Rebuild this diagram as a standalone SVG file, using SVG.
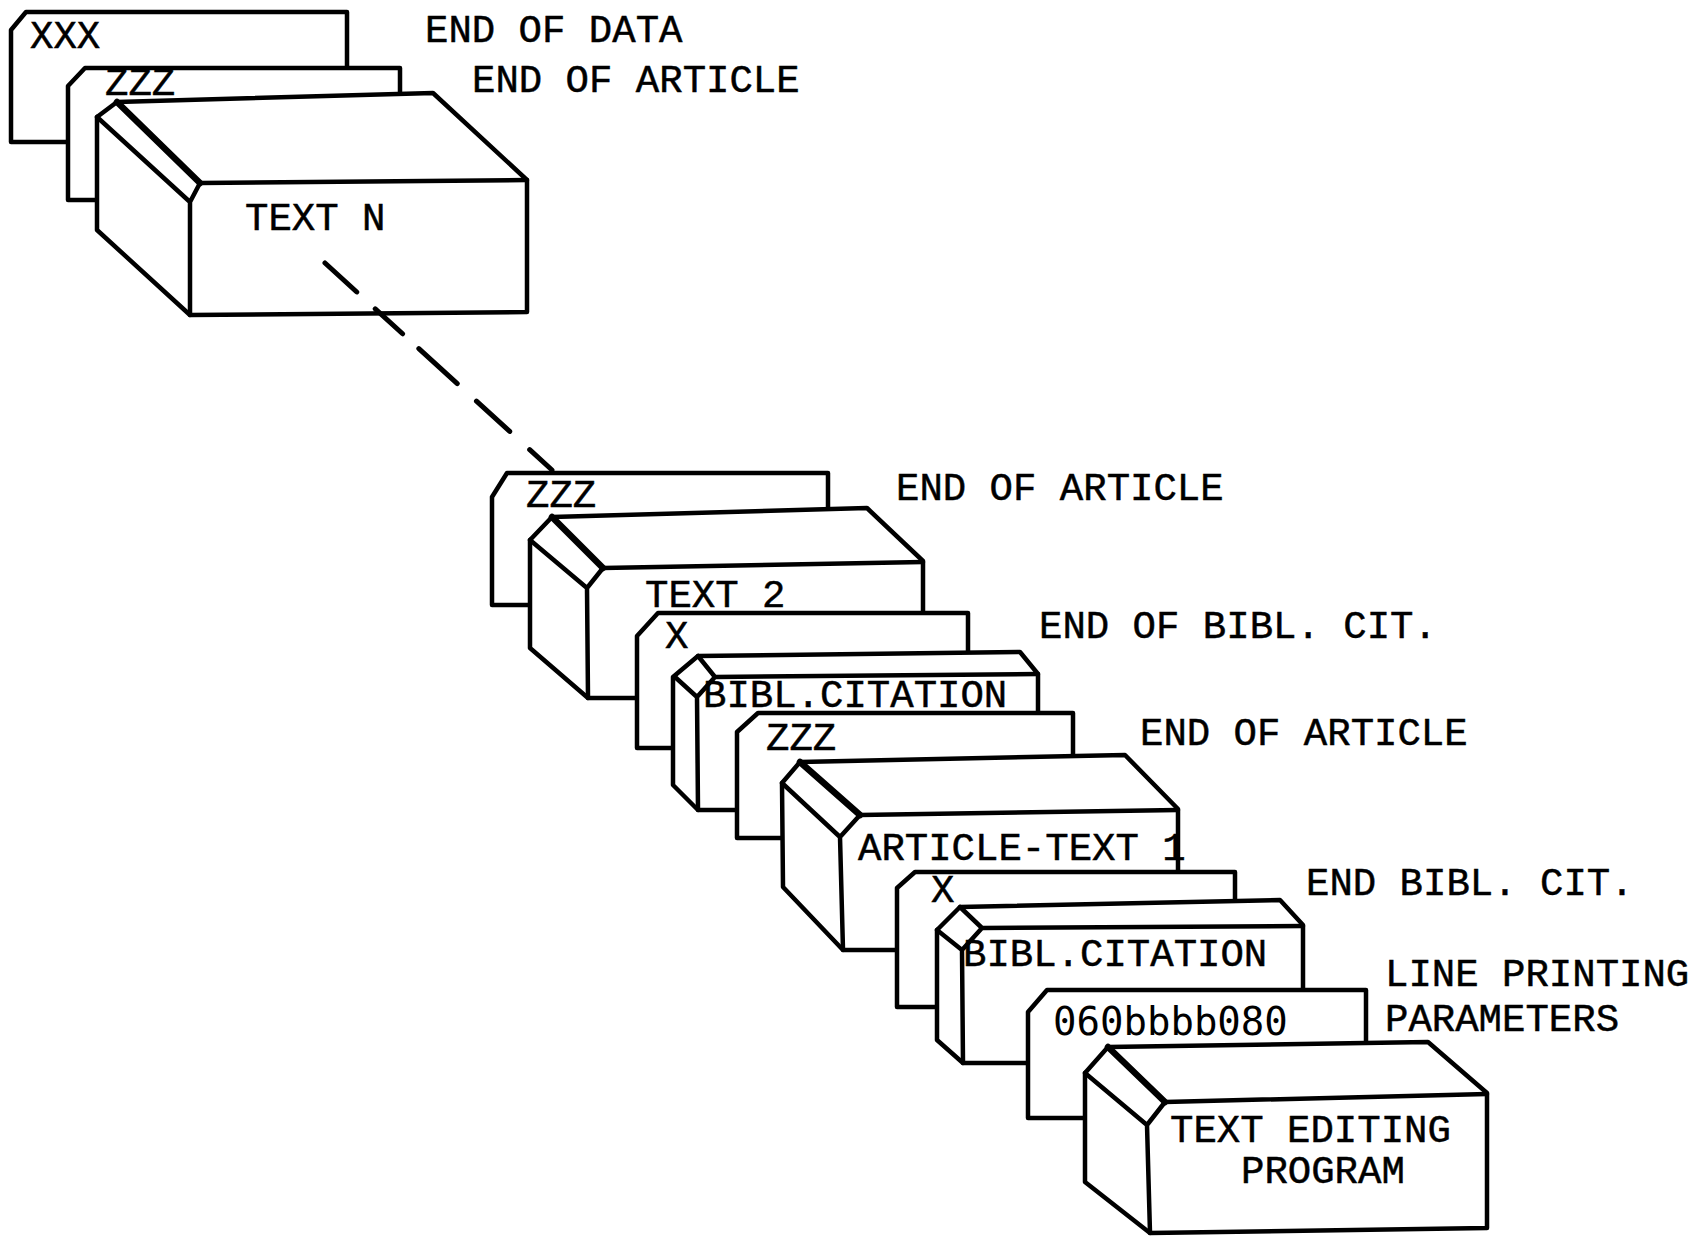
<svg xmlns="http://www.w3.org/2000/svg" width="1705" height="1240" viewBox="0 0 1705 1240">
  <style>
    .o { fill: #fff; stroke: #000; stroke-width: 4.5; stroke-linejoin: round; }
    .l { fill: none; stroke: #000; stroke-width: 4.5; stroke-linecap: round; stroke-linejoin: round; }
    .bv { fill: none; stroke: #000; stroke-width: 6.5; stroke-linecap: round; }
    .t { font-family: "Liberation Mono", "Courier New", monospace; font-size: 39px; fill: #000; stroke: #000; stroke-width: 0.5; }
    .g { font-family: "DejaVu Sans Mono", monospace; font-size: 39px; fill: #000; }
    .dash { fill: none; stroke: #000; stroke-width: 5; stroke-linecap: round; stroke-dasharray: 43 25 37 22 52 26 45 27 60; }
  </style>
  <rect width="1705" height="1240" fill="#fff"/>

  <!-- side labels -->
  <g id="labels">
    <text class="t" x="425" y="42">END OF DATA</text>
    <text class="t" x="472" y="92">END OF ARTICLE</text>
    <text class="t" x="896" y="500">END OF ARTICLE</text>
    <text class="t" x="1039" y="638">END OF BIBL. CIT.</text>
    <text class="t" x="1140" y="745">END OF ARTICLE</text>
    <text class="t" x="1306" y="895">END BIBL. CIT.</text>
    <text class="t" x="1385" y="986">LINE PRINTING</text>
    <text class="t" x="1385" y="1031">PARAMETERS</text>
  </g>

  <!-- first deck: last article and end of data -->
  <g id="card-xxx">
    <path class="o" d="M11,142 V30 L26,12 H347 V142 Z"/>
    <text class="t" x="30" y="48">XXX</text>
  </g>
  <g id="card-zzz-n">
    <path class="o" d="M68,200 V86 L85,68 H400 V200 Z"/>
    <text class="t" x="105" y="95">ZZZ</text>
  </g>
  <g id="box-text-n">
    <path class="o" d="M97,117 L117,102 L433,93 L527,180 V312 L190,315 L97,230 Z"/>
    <path class="bv" d="M117,102 L200,183"/>
    <path class="l" d="M97,117 L190,202 M200,183 L190,202 M200,183 L527,180 M190,202 V315"/>
    <text class="t" x="245" y="230">TEXT N</text>
  </g>

  <!-- second deck -->
  <g id="card-zzz-2">
    <path class="o" d="M492,605 V497 L507,473 H828 V605 Z"/>
    <text class="t" x="526" y="507">ZZZ</text>
  </g>
  <g id="box-text-2">
    <path class="o" d="M530,540 L552,517 L867,508 L923,561 V698 H588 L530,648 Z"/>
    <path class="bv" d="M552,517 L603,568"/>
    <path class="l" d="M530,540 L587,588 M603,568 L587,588 M603,568 L923,562 M587,588 L588,698"/>
    <text class="t" x="645" y="607">TEXT 2</text>
  </g>
  <g id="card-x-1">
    <path class="o" d="M637,748 V636 L658,613 H968 V748 Z"/>
    <text class="t" x="665" y="648">X</text>
  </g>
  <g id="box-bibl-1">
    <path class="o" d="M673,677 L698,656 L1020,652 L1038,674 V810 H698 L673,785 Z"/>
    <path class="l" d="M698,656 L715,677 M675,677 L697,697 M715,677 L697,697 M715,677 L1038,674 M697,697 L698,810"/>
    <text class="t" x="703" y="707">BIBL.CITATION</text>
  </g>
  <g id="card-zzz-1">
    <path class="o" d="M737,838 V732 L758,713 H1073 V838 Z"/>
    <text class="t" x="766" y="750">ZZZ</text>
  </g>
  <g id="box-article-1">
    <path class="o" d="M782,783 L800,762 L1125,755 L1178,809 V950 H843 L783,887 Z"/>
    <path class="bv" d="M800,762 L860,815"/>
    <path class="l" d="M782,783 L840,837 M860,815 L840,837 M860,815 L1178,810 M840,837 L843,950"/>
    <text class="t" x="858" y="860">ARTICLE-TEXT 1</text>
  </g>
  <g id="card-x-2">
    <path class="o" d="M897,1007 V888 L915,872 H1235 V1007 Z"/>
    <text class="t" x="931" y="902">X</text>
  </g>
  <g id="box-bibl-2">
    <path class="o" d="M937,930 L960,907 L1280,900 L1303,925 V1063 H963 L937,1040 Z"/>
    <path class="l" d="M960,907 L982,928 M937,930 L962,950 M982,928 L962,950 M982,928 L1303,926 M962,950 L963,1063"/>
    <text class="t" x="963" y="966">BIBL.CITATION</text>
  </g>
  <g id="card-params">
    <path class="o" d="M1028,1118 V1012 L1047,990 H1366 V1118 Z"/>
    <text class="g" x="1053" y="1035">060bbbb080</text>
  </g>
  <g id="box-program">
    <path class="o" d="M1085,1073 L1108,1047 L1428,1042 L1487,1093 V1228 L1150,1233 L1085,1182 Z"/>
    <path class="bv" d="M1108,1047 L1165,1102"/>
    <path class="l" d="M1085,1073 L1147,1125 M1165,1102 L1147,1125 M1165,1102 L1487,1094 M1147,1125 L1150,1233"/>
    <text class="t" x="1170" y="1142">TEXT EDITING</text>
    <text class="t" x="1241" y="1183">PROGRAM</text>
  </g>

  <!-- dashed link between the two decks -->
  <g id="connectors">
    <path class="dash" d="M325,263 L552,470"/>
  </g>
</svg>
